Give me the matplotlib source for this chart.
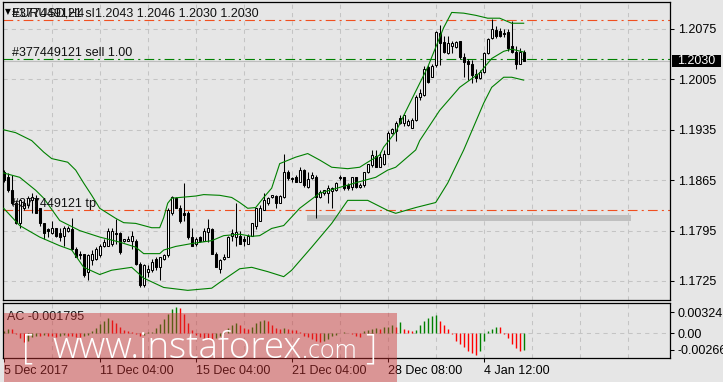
import matplotlib
matplotlib.use("Agg")
import matplotlib.pyplot as plt
from matplotlib.patches import Rectangle
from matplotlib.transforms import IdentityTransform, blended_transform_factory
import numpy as np

# EURUSD H4 bars, oldest first
opens = [1.1876, 1.1869, 1.1852, 1.1833, 1.1806, 1.1827, 1.1830, 1.1837, 1.1840, 1.1826,
         1.1805, 1.1797, 1.1791, 1.1798, 1.1791, 1.1788, 1.1795, 1.1797, 1.1770, 1.1763,
         1.1762, 1.1737, 1.1754, 1.1755, 1.1761, 1.1773, 1.1774, 1.1777, 1.1791, 1.1791,
         1.1781, 1.1781, 1.1781, 1.1781, 1.1749, 1.1719, 1.1737, 1.1740, 1.1755, 1.1745,
         1.1755, 1.1761, 1.1819, 1.1840, 1.1826, 1.1819, 1.1820, 1.1786, 1.1776, 1.1786,
         1.1781, 1.1793, 1.1797, 1.1763, 1.1741, 1.1755, 1.1759, 1.1787, 1.1786, 1.1788,
         1.1783, 1.1777, 1.1788, 1.1802, 1.1809, 1.1824, 1.1834, 1.1841, 1.1843, 1.1834,
         1.1841, 1.1876, 1.1868, 1.1869, 1.1863, 1.1879, 1.1855, 1.1868, 1.1870, 1.1841,
         1.1847, 1.1847, 1.1850, 1.1851, 1.1868, 1.1869, 1.1858, 1.1855, 1.1869, 1.1856,
         1.1858, 1.1876, 1.1886, 1.1898, 1.1884, 1.1887, 1.1902, 1.1930, 1.1934, 1.1951,
         1.1944, 1.1941, 1.1938, 1.1948, 1.1980, 1.1983, 1.2022, 1.2009, 1.2025, 1.2069,
         1.2057, 1.2041, 1.2051, 1.2050, 1.2058, 1.2036, 1.2030, 1.2027, 1.2012, 1.2007,
         1.2015, 1.2041, 1.2062, 1.2073, 1.2072, 1.2069, 1.2071, 1.2051, 1.2043, 1.2027,
         1.2043]
highs = [1.1879, 1.1875, 1.1872, 1.1837, 1.1838, 1.1837, 1.1843, 1.1847, 1.1844, 1.1827,
         1.1806, 1.1799, 1.1809, 1.1799, 1.1799, 1.1801, 1.1801, 1.1812, 1.1772, 1.1766,
         1.1763, 1.1763, 1.1768, 1.1772, 1.1776, 1.1783, 1.1799, 1.1798, 1.1811, 1.1793,
         1.1784, 1.1787, 1.1794, 1.1784, 1.1751, 1.1749, 1.1747, 1.1755, 1.1758, 1.1759,
         1.1763, 1.1826, 1.1843, 1.1841, 1.1830, 1.1861, 1.1822, 1.1798, 1.1786, 1.1787,
         1.1798, 1.1811, 1.1798, 1.1765, 1.1755, 1.1762, 1.1787, 1.1797, 1.1833, 1.1795,
         1.1787, 1.1790, 1.1806, 1.1827, 1.1830, 1.1847, 1.1841, 1.1845, 1.1844, 1.1844,
         1.1901, 1.1879, 1.1870, 1.1872, 1.1884, 1.1880, 1.1876, 1.1876, 1.1872, 1.1851,
         1.1852, 1.1858, 1.1856, 1.1863, 1.1872, 1.1870, 1.1861, 1.1870, 1.1870, 1.1861,
         1.1877, 1.1888, 1.1907, 1.1907, 1.1904, 1.1907, 1.1933, 1.1938, 1.1947, 1.1955,
         1.1957, 1.1950, 1.1951, 1.1983, 1.1991, 1.2023, 1.2025, 1.2026, 1.2072, 1.2080,
         1.2065, 1.2065, 1.2059, 1.2059, 1.2059, 1.2041, 1.2033, 1.2032, 1.2020, 1.2018,
         1.2043, 1.2062, 1.2089, 1.2079, 1.2076, 1.2075, 1.2075, 1.2086, 1.2052, 1.2048,
         1.2046]
lows = [1.1862, 1.1848, 1.1831, 1.1804, 1.1799, 1.1823, 1.1827, 1.1820, 1.1819, 1.1802,
        1.1784, 1.1786, 1.1790, 1.1786, 1.1781, 1.1774, 1.1793, 1.1768, 1.1758, 1.1756,
        1.1730, 1.1727, 1.1747, 1.1754, 1.1759, 1.1772, 1.1773, 1.1773, 1.1777, 1.1763,
        1.1779, 1.1780, 1.1769, 1.1747, 1.1716, 1.1717, 1.1730, 1.1737, 1.1740, 1.1726,
        1.1754, 1.1759, 1.1817, 1.1826, 1.1806, 1.1809, 1.1784, 1.1773, 1.1773, 1.1779,
        1.1780, 1.1779, 1.1762, 1.1744, 1.1736, 1.1754, 1.1758, 1.1781, 1.1774, 1.1776,
        1.1774, 1.1776, 1.1787, 1.1797, 1.1808, 1.1823, 1.1831, 1.1840, 1.1827, 1.1833,
        1.1840, 1.1865, 1.1863, 1.1862, 1.1862, 1.1855, 1.1854, 1.1866, 1.1813, 1.1840,
        1.1845, 1.1833, 1.1827, 1.1850, 1.1865, 1.1852, 1.1851, 1.1852, 1.1854, 1.1854,
        1.1856, 1.1875, 1.1884, 1.1883, 1.1883, 1.1886, 1.1901, 1.1929, 1.1920, 1.1943,
        1.1940, 1.1940, 1.1937, 1.1947, 1.1976, 1.1982, 1.2000, 1.2008, 1.2022, 1.2025,
        1.2041, 1.2040, 1.2041, 1.2048, 1.2034, 1.2008, 1.2004, 1.2000, 1.2001, 1.2005,
        1.2014, 1.2040, 1.2061, 1.2062, 1.2064, 1.2064, 1.2045, 1.2041, 1.2020, 1.2026,
        1.2030]
closes = [1.1865, 1.1851, 1.1833, 1.1805, 1.1837, 1.1833, 1.1840, 1.1841, 1.1820, 1.1805,
          1.1791, 1.1795, 1.1798, 1.1788, 1.1786, 1.1798, 1.1798, 1.1769, 1.1759, 1.1761,
          1.1733, 1.1761, 1.1763, 1.1770, 1.1774, 1.1779, 1.1795, 1.1794, 1.1790, 1.1765,
          1.1783, 1.1784, 1.1788, 1.1749, 1.1719, 1.1747, 1.1742, 1.1752, 1.1745, 1.1758,
          1.1761, 1.1823, 1.1841, 1.1827, 1.1808, 1.1817, 1.1786, 1.1774, 1.1783, 1.1780,
          1.1795, 1.1798, 1.1763, 1.1745, 1.1754, 1.1759, 1.1786, 1.1791, 1.1793, 1.1777,
          1.1781, 1.1788, 1.1805, 1.1826, 1.1827, 1.1837, 1.1840, 1.1844, 1.1834, 1.1843,
          1.1876, 1.1868, 1.1866, 1.1863, 1.1879, 1.1858, 1.1866, 1.1872, 1.1841, 1.1848,
          1.1851, 1.1854, 1.1854, 1.1861, 1.1869, 1.1854, 1.1854, 1.1869, 1.1855, 1.1858,
          1.1876, 1.1887, 1.1900, 1.1884, 1.1897, 1.1902, 1.1930, 1.1936, 1.1944, 1.1944,
          1.1955, 1.1947, 1.1948, 1.1980, 1.1986, 1.2020, 1.2001, 1.2023, 1.2071, 1.2055,
          1.2043, 1.2055, 1.2055, 1.2057, 1.2036, 1.2029, 1.2026, 1.2011, 1.2007, 1.2015,
          1.2041, 1.2061, 1.2075, 1.2065, 1.2065, 1.2068, 1.2048, 1.2043, 1.2027, 1.2043,
          1.2030]

# Bollinger bands, sampled along the chart (bar index, price)
upper_idx = [0, 3, 7, 10, 12, 16, 18, 20, 22, 24, 28, 30, 33, 37, 39, 40, 41, 42, 44, 48,
             50, 54, 57, 59, 61, 63, 65, 67, 69, 73, 76, 79, 82, 86, 89, 91, 94, 95, 98, 101,
             106, 110, 112, 115, 118, 121, 124, 127, 130]
upper_val = [1.1935, 1.1931, 1.1920, 1.1904, 1.1895, 1.1890, 1.1879, 1.1861, 1.1844, 1.1826,
             1.1812, 1.1806, 1.1805, 1.1799, 1.1799, 1.1813, 1.1833, 1.1840, 1.1841, 1.1843,
             1.1845, 1.1844, 1.1841, 1.1834, 1.1826, 1.1827, 1.1841, 1.1854, 1.1888, 1.1897,
             1.1902, 1.1893, 1.1883, 1.1881, 1.1883, 1.1890, 1.1900, 1.1911, 1.1932, 1.1966,
             1.2022, 1.2077, 1.2098, 1.2097, 1.2094, 1.2090, 1.2090, 1.2083, 1.2083]
middle_idx = [0, 4, 8, 10, 14, 19, 24, 29, 33, 35, 39, 40, 43, 47, 52, 55, 59, 62, 64, 67,
              70, 74, 79, 84, 89, 93, 96, 98, 103, 104, 109, 114, 119, 122, 125, 127, 130]
middle_val = [1.1875, 1.1869, 1.1851, 1.1840, 1.1809, 1.1795, 1.1786, 1.1779, 1.1772, 1.1763,
              1.1763, 1.1768, 1.1773, 1.1777, 1.1781, 1.1788, 1.1790, 1.1787, 1.1788, 1.1798,
              1.1802, 1.1826, 1.1847, 1.1855, 1.1863, 1.1869, 1.1879, 1.1883, 1.1907, 1.1920,
              1.1962, 1.1994, 1.2014, 1.2034, 1.2044, 1.2047, 1.2043]
lower_idx = [0, 4, 9, 14, 17, 20, 24, 27, 32, 35, 40, 46, 52, 54, 59, 62, 66, 70, 72, 77,
             82, 86, 91, 96, 98, 103, 108, 111, 115, 120, 122, 125, 127, 130]
lower_val = [1.1826, 1.1802, 1.1786, 1.1774, 1.1768, 1.1744, 1.1734, 1.1740, 1.1744, 1.1729,
             1.1716, 1.1712, 1.1715, 1.1723, 1.1742, 1.1744, 1.1738, 1.1731, 1.1740, 1.1772,
             1.1805, 1.1837, 1.1837, 1.1823, 1.1819, 1.1827, 1.1834, 1.1861, 1.1907, 1.1972,
             1.1994, 1.2008, 1.2008, 1.2004]

# Accelerator Oscillator
ac_values = [0.0003, 0.0006, 0.0006, -0.0001, -0.0008, -0.0014, -0.0012, -0.0006, -0.0004, -0.0005,
             -0.0003, -0.0004, -0.0005, -0.0007, -0.0004, -0.0003, -0.0004, -0.0005, -0.0006, -0.0007,
             -0.0005, -0.0003, 0.0003, 0.0008, 0.0014, 0.0019, 0.0023, 0.0020, 0.0015, 0.0010,
             0.0005, 0.0003, 0.0001, -0.0002, -0.0004, -0.0003, 0.0001, 0.0002, 0.0008, 0.0014,
             0.0022, 0.0030, 0.0038, 0.0041, 0.0040, 0.0030, 0.0015, 0.0004, -0.0003, -0.0006,
             -0.0008, -0.0010, -0.0012, -0.0008, -0.0005, 0.0001, 0.0008, 0.0013, 0.0016, 0.0012,
             0.0008, 0.0006, 0.0010, 0.0015, 0.0019, 0.0020, 0.0019, 0.0013, 0.0008, 0.0007,
             0.00072, 0.00065, 0.0005, 0.0004, 0.0001, -0.0005, -0.0007, -0.0010, -0.0013, -0.0014,
             -0.0013, -0.0010, -0.0004, -0.0003, 0.00005, 0.0001, 0.00005, -0.0002, -0.0004, -0.0007,
             0.0003, 0.0004, 0.0006, 0.0008, 0.0007, 0.0009, 0.0010, 0.0012, 0.0010, 0.0017,
             0.0007, 0.0004, 0.0003, 0.0005, 0.0013, 0.0019, 0.0024, 0.0026, 0.0029, 0.0019,
             0.0013, 0.0007, -0.0002, -0.0013, -0.0018, -0.0022, -0.0029, -0.0031, -0.0034, -0.0029,
             -0.0013, 0.0003, 0.0007, 0.0010, 0.0009, -0.0001, -0.0008, -0.0018, -0.0024, -0.0029,
             -0.0026]

price_ticks = [1.2075, 1.2005, 1.1935, 1.1865, 1.1795, 1.1725]
ac_ticks = [0.003241, 0.0, -0.00266]
ac_tick_labels = ["0.003241", "0.00", "-0.00266"]
date_pos = [0, 24, 48, 72, 96, 120]
date_labels = ["5 Dec 2017", "11 Dec 04:00", "15 Dec 04:00", "21 Dec 04:00",
               "28 Dec 08:00", "4 Jan 12:00"]

order_id = "#377449121"
sl_price = 1.2088
tp_price = 1.1824
open_price = 1.2033
bid = 1.2030
zone_lo, zone_hi = 1.1809, 1.1817
zone_start, zone_end = 75.8, 156.8

BG = "#e6e6e6"
GREEN = "#008000"
ORANGE = "#f05020"
plt.rcParams["font.family"] = ["Liberation Sans", "DejaVu Sans"]
plt.rcParams["font.size"] = 9
plt.rcParams["lines.scale_dashes"] = False

W, H = 723, 382
fig = plt.figure(figsize=(W / 100, H / 100), dpi=100, facecolor=BG)


def box(x0, y0, x1, y1):
    # pixel box -> figure fraction rect
    return [x0 / W, 1 - y1 / H, (x1 - x0) / W, (y1 - y0) / H]


ax = fig.add_axes(box(3, 2, 670, 300), facecolor=BG)
ax2 = fig.add_axes(box(3, 303, 670, 358), facecolor=BG)

n = len(closes)
x = np.arange(n)
o = np.array(opens)
c = np.array(closes)
xlim = (-0.175, 166.575)

# --- price panel ---
ax.set_xlim(*xlim)
ax.set_ylim(1.16986, 1.21125)
grid_x = np.arange(12, 167, 12)
for gx in grid_x:
    ax.axvline(gx, color="#c4c4c4", lw=0.75, ls=(0, (3, 3)), zorder=0)
    ax2.axvline(gx, color="#c4c4c4", lw=0.75, ls=(0, (3, 3)), zorder=0)
for py in price_ticks:
    ax.axhline(py, color="#c4c4c4", lw=0.75, ls=(0, (3, 3)), zorder=0)

dashdot = (0, (7, 3, 1.5, 3))
ax.axhline(bid, color="#bdbdbd", lw=0.8, zorder=1)
ax.axhline(sl_price, color=ORANGE, lw=0.8, ls=dashdot, zorder=1)
ax.axhline(tp_price, color=ORANGE, lw=0.8, ls=dashdot, zorder=1)
ax.axhline(open_price, color=GREEN, lw=0.8, ls=dashdot, zorder=1)
ax.add_patch(Rectangle((zone_start, zone_lo), zone_end - zone_start, zone_hi - zone_lo,
                       facecolor="#c0c0c0", edgecolor="none", zorder=1.2))

ax.vlines(x, lows, highs, color="black", lw=0.75, zorder=3)
up = c >= o
body_lo = np.minimum(o, c)
body_h = np.abs(c - o)
ax.bar(x[up], body_h[up], bottom=body_lo[up], width=0.55, color="white",
       edgecolor="black", linewidth=0.75, zorder=4)
ax.bar(x[~up], body_h[~up], bottom=body_lo[~up], width=0.55, color="black",
       edgecolor="black", linewidth=0.75, zorder=4)

ax.plot(upper_idx, upper_val, color=GREEN, lw=0.8, zorder=5)
ax.plot(middle_idx, middle_val, color=GREEN, lw=0.8, zorder=5)
ax.plot(lower_idx, lower_val, color=GREEN, lw=0.8, zorder=5)

lbl = blended_transform_factory(ax.transAxes, ax.transData)
for text, yv in [(order_id + " sl", sl_price), (order_id + " sell 1.00", open_price),
                 (order_id + " tp", tp_price)]:
    ax.annotate(text, xy=(0, yv), xycoords=lbl, xytext=(6.5, 2), textcoords="offset points",
                va="baseline", ha="left", color="#101010", zorder=6)
ax.annotate("EURUSD,H4", xy=(0, sl_price), xycoords=lbl, xytext=(6.5, 2),
            textcoords="offset points", va="baseline", ha="left", color="#101010", zorder=6)
ax.annotate("1.2043 1.2046 1.2030 1.2030", xy=(0, sl_price), xycoords=lbl, xytext=(66.5, 2),
            textcoords="offset points", va="baseline", ha="left", color="#101010", zorder=6)
fig.text(5 / W, 1 - 12 / H, "\u25bc", fontsize=5.5, va="center", ha="left",
         family="DejaVu Sans")

ax.set_xticks([])
ax.yaxis.tick_right()
ax.set_yticks(price_ticks)
ax.set_yticklabels([f"{p:.4f}" for p in price_ticks])
ax.tick_params(axis="y", direction="out", length=3, width=0.75, pad=2.5, labelsize=9,
               colors="black")
for s in ax.spines.values():
    s.set_linewidth(0.9)

# --- AC panel ---
ac = np.array(ac_values)
ac_col = [GREEN if i == 0 or ac[i] > ac[i - 1] else "#ff0000" for i in range(n)]
ax2.set_xlim(*xlim)
ax2.set_ylim(-0.003925, 0.00471)
ax2.axhline(0, color="#c4c4c4", lw=0.75, ls=(0, (3, 3)), zorder=0)
ax2.vlines(x, 0, ac, colors=ac_col, lw=1.0, zorder=2)
ax2.yaxis.tick_right()
ax2.set_yticks(ac_ticks)
ax2.set_yticklabels(ac_tick_labels)
ax2.tick_params(axis="y", direction="out", length=3, width=0.75, pad=2.5, labelsize=9)
ax2.set_xticks(date_pos)
ax2.set_xticklabels(date_labels, ha="left")
ax2.tick_params(axis="x", direction="out", length=3, width=0.75, pad=2, labelsize=9)
for s in ax2.spines.values():
    s.set_linewidth(0.9)
ax2.text(0.006, 0.86, "AC -0.001795", transform=ax2.transAxes, va="top", ha="left",
         fontsize=9, color="#101010")

# bid price tag on the scale
fig.canvas.draw()
yd = ax.transData.transform((0, bid))[1]
fig.add_artist(Rectangle((672, yd - 6), 49, 12, transform=IdentityTransform(),
                         facecolor="black", edgecolor="none", zorder=20))
fig.text(677 / W, yd / H, f"{bid:.4f}", color="white", va="center", ha="left",
         fontsize=9, zorder=21)

# watermark
fig.add_artist(Rectangle((4 / W, 0), 393 / W, 69 / H, transform=fig.transFigure,
                         facecolor=(0.8, 0.2, 0.2), alpha=0.45, edgecolor="none", zorder=10))
wm = dict(color="white", va="baseline", ha="left", zorder=11, family=["Open Sans", "DejaVu Sans"],
          fontweight="light")
fig.text(22 / W, 1 - 358 / H, "[", fontsize=25, **wm)
fig.text(52 / W, 1 - 358 / H, "www.instaforex", fontsize=26.5, **wm)
fig.text(302 / W, 1 - 358 / H, ".com", fontsize=18, **wm)
fig.text(365 / W, 1 - 358 / H, "]", fontsize=25, **wm)

fig.savefig("out.png", dpi=100, facecolor=BG)
